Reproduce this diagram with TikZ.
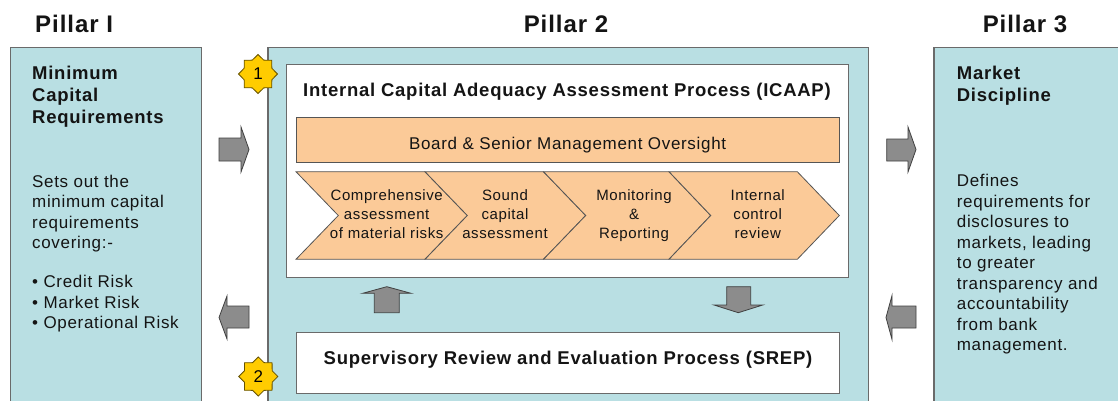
\documentclass[tikz,border=0pt]{standalone}
\usepackage{fontspec}
\setmainfont{Liberation Sans}[LetterSpace=4]
\usetikzlibrary{shapes.geometric}
\definecolor{pblue}{HTML}{B9DFE3}
\definecolor{porange}{HTML}{FBCA98}
\definecolor{pgray}{HTML}{8C8C8C}
\definecolor{pedge}{HTML}{6A6A6A}
\definecolor{pyellow}{HTML}{FFCC00}
\definecolor{ptext}{HTML}{141414}
\tikzset{
  pillarbox/.style={draw=pedge, line width=1.2pt, fill=pblue, anchor=north west, inner sep=0pt},
  whitebox/.style={draw=pedge, line width=1.1pt, fill=white, anchor=north west, inner sep=0pt},
  barbox/.style={draw=pedge!80!black, line width=0.9pt, fill=porange, anchor=north west, inner sep=0pt},
  chev/.style={draw=pedge!80!black, line width=0.8pt, fill=porange, line join=miter},
  blockarrow/.style={draw=black!75, line width=0.8pt, fill=pgray, line join=miter},
  badge/.style={star, star points=8, star point ratio=1.3, minimum size=39pt, inner sep=0pt,
    draw=black!60!pyellow, line width=0.8pt, fill=pyellow, text=black, font=\fontsize{17}{17}\selectfont},
  ttl/.style={font=\fontsize{24}{26}\selectfont\bfseries, text=ptext, inner sep=0pt},
  head/.style={font=\fontsize{18.5}{22.4}\selectfont\bfseries, text=ptext, inner sep=0pt, align=left, anchor=base west},
  body/.style={font=\fontsize{17}{20.5}\selectfont, text=ptext, inner sep=0pt, align=left, anchor=base west},
  boxtitle/.style={font=\fontsize{18.5}{22}\selectfont\bfseries, text=ptext, inner sep=0pt, anchor=base},
  bartext/.style={font=\fontsize{17}{20}\selectfont, text=ptext, inner sep=0pt, anchor=base},
  chevtext/.style={font=\fontsize{15}{18.8}\selectfont, text=ptext, inner sep=0pt, align=center, anchor=base},
}
\begin{document}
\begin{tikzpicture}[x=1pt,y=-1pt]
\useasboundingbox (0,0) rectangle (1118,401);
\clip (0,0) rectangle (1118,401);
\fill[white] (0,0) rectangle (1118,401);

% pillar titles
\node[ttl, anchor=base west] (t1) at (35,32.3) {Pillar I};
\node[ttl, anchor=base] (t2) at (566,32.3) {Pillar 2};
\node[ttl, anchor=base] (t3) at (1025,32.3) {Pillar 3};

% pillar boxes
\node[pillarbox, minimum width=190.7pt, minimum height=380pt] (left) at (10,46.7) {};
\node[pillarbox, minimum width=600.4pt, minimum height=380pt] (mid) at (267.3,46.7) {};
\node[pillarbox, minimum width=200pt, minimum height=380pt] (right) at (933.3,47.2) {};

% left texts (base anchor = last line baseline)
\node[head] (lhead) at (32,124) {Minimum\\Capital\\Requirements};
\node[body] (lbody) at (32,328.8) {Sets out the\\minimum capital\\requirements\\covering:-\\[18.6pt]%
• Credit Risk\\• Market Risk\\• Operational Risk};

% right texts
\node[head] (rhead) at (956.7,101.7) {Market\\Discipline};
\node[body] (rbody) at (956.7,350.7) {Defines\\requirements for\\disclosures to\\markets, leading\\to greater\\transparency and\\accountability\\from bank\\management.};

% ICAAP box
\node[whitebox, minimum width=562.3pt, minimum height=212.7pt] (icaap) at (286,64) {};
\node[boxtitle] (icaapt) at (567,97) {Internal Capital Adequacy Assessment Process (ICAAP)};
\node[barbox, minimum width=543.3pt, minimum height=45pt] (board) at (296,117.3) {};
\node[bartext] (boardt) at (567.6,149) {Board \& Senior Management Oversight};

% chevrons
\def\ct{171.7}\def\cb{259.3}\def\cm{215.5}
\draw[chev] (296,\ct) -- (425,\ct) -- (467.3,\cm) -- (425,\cb) -- (296,\cb) -- (338.3,\cm) -- cycle;
\draw[chev] (425,\ct) -- (543.5,\ct) -- (585.7,\cm) -- (543.5,\cb) -- (425,\cb) -- (467.3,\cm) -- cycle;
\draw[chev] (543.5,\ct) -- (669,\ct) -- (710.7,\cm) -- (669,\cb) -- (543.5,\cb) -- (585.7,\cm) -- cycle;
\draw[chev] (669,\ct) -- (797.3,\ct) -- (839.3,\cm) -- (797.3,\cb) -- (669,\cb) -- (710.7,\cm) -- cycle;
\node[chevtext] (c1) at (386.7,238.3) {Comprehensive\\assessment\\of material risks};
\node[chevtext] (c2) at (505,238.3) {Sound\\capital\\assessment};
\node[chevtext] (c3) at (634,238.3) {Monitoring\\\&\\Reporting};
\node[chevtext] (c4) at (757.7,238.3) {Internal\\control\\review};

% SREP box
\node[whitebox, minimum width=543.3pt, minimum height=61pt] (srep) at (296,331.7) {};
\node[boxtitle] (srept) at (568,364.3) {Supervisory Review and Evaluation Process (SREP)};

% badges
\node[badge] (b1) at (258,74) {1};
\node[badge] (b2) at (258.3,376.5) {2};

% block arrows
\draw[blockarrow] (219,138) -- (241,138) -- (241,127) -- (249,149.5) -- (241,172) -- (241,161) -- (219,161) -- cycle;
\draw[blockarrow] (249,306) -- (227,306) -- (227,296) -- (219,317.5) -- (227,339) -- (227,328) -- (249,328) -- cycle;
\draw[blockarrow] (886.7,139) -- (908,139) -- (908,127) -- (916,149.5) -- (908,172) -- (908,161) -- (886.7,161) -- cycle;
\draw[blockarrow] (916,306) -- (892,306) -- (892,295.5) -- (886,317.5) -- (892,339.5) -- (892,328) -- (916,328) -- cycle;
\draw[blockarrow] (374.3,312.7) -- (374.3,293.3) -- (362.7,293.3) -- (386.8,286.7) -- (411,293.3) -- (399.3,293.3) -- (399.3,312.7) -- cycle;
\draw[blockarrow] (726.7,286.7) -- (750.7,286.7) -- (750.7,305) -- (762.7,305) -- (738.3,312.7) -- (714,305) -- (726.7,305) -- cycle;
\end{tikzpicture}
\end{document}
